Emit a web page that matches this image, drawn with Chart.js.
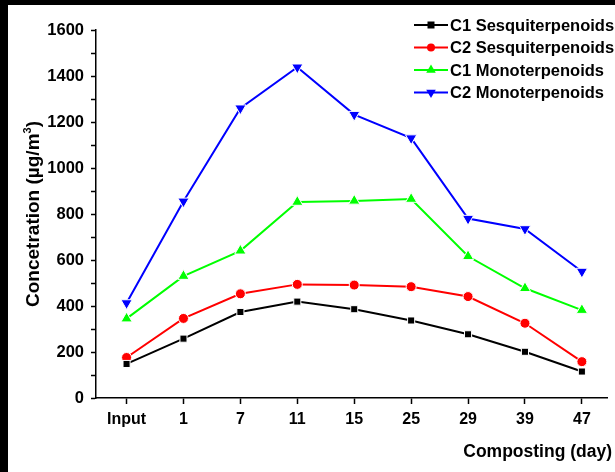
<!DOCTYPE html>
<html>
<head>
<meta charset="utf-8">
<script src="https://cdn.jsdelivr.net/npm/chart.js@4.4.1/dist/chart.umd.min.js"></script>
<style>
  html, body { margin: 0; padding: 0; background: #000; }
  #wrap { position: absolute; left: 8px; top: 5px; width: 607px; height: 467px; background: #fff; }
</style>
</head>
<body>
<div id="wrap"><canvas id="chart" width="607" height="467"></canvas></div>
<script>
// composting days (x categories)
const days = ['Input', '1', '7', '11', '15', '25', '29', '39', '47'];

// concentrations, ug/m3
const c1Sesq = [148, 258, 374, 419, 386, 337, 277, 201, 115];
const c2Sesq = [176, 346, 453, 494, 491, 484, 441, 325, 158];
const c1Mono = [345, 530, 640, 852, 857, 865, 616, 477, 382];
const c2Mono = [413, 855, 1260, 1438, 1232, 1130, 780, 735, 550];

const yTicks = [0, 200, 400, 600, 800, 1000, 1200, 1400, 1600];

const FONT = '"Liberation Sans", Arial, sans-serif';

const toPoints = vals => vals.map((v, i) => ({ x: i, y: v }));

const makeSet = (label, vals, color, style, radius, rotation) => ({
  label: label,
  data: toPoints(vals),
  borderColor: color,
  backgroundColor: color,
  borderWidth: 2,
  pointStyle: style,
  pointRadius: radius,
  pointRotation: rotation || 0,
  pointBackgroundColor: color,
  pointBorderColor: '#fff',
  pointBorderWidth: 1,
  tension: 0,
});

// legend + axis titles drawn on top of the chart
const extras = {
  id: 'extras',
  afterDraw(chart) {
    const ctx = chart.ctx;
    ctx.save();

    // legend
    const rowsY = [20, 42.5, 65, 87.5];
    chart.data.datasets.forEach((ds, i) => {
      const y = rowsY[i];
      ctx.strokeStyle = ds.borderColor;
      ctx.lineWidth = 2;
      ctx.beginPath();
      ctx.moveTo(406, y);
      ctx.lineTo(440, y);
      ctx.stroke();

      ctx.fillStyle = ds.borderColor;
      const cx = 423;
      ctx.beginPath();
      if (ds.pointStyle === 'rect') {
        ctx.rect(cx - 3.5, y - 3.5, 7, 7);
      } else if (ds.pointStyle === 'circle') {
        ctx.arc(cx, y, 4, 0, Math.PI * 2);
      } else {
        const r = 5.5;
        const dir = ds.pointRotation ? 1 : -1;
        ctx.moveTo(cx, y + dir * r);
        ctx.lineTo(cx - r * 0.87, y - dir * r * 0.5);
        ctx.lineTo(cx + r * 0.87, y - dir * r * 0.5);
        ctx.closePath();
      }
      ctx.fill();

      ctx.fillStyle = '#000';
      ctx.font = 'bold 16.5px ' + FONT;
      ctx.textAlign = 'left';
      ctx.textBaseline = 'middle';
      ctx.fillText(ds.label, 442, y + 1);
    });

    // x title
    ctx.font = 'bold 17.5px ' + FONT;
    ctx.textAlign = 'right';
    ctx.textBaseline = 'middle';
    ctx.fillText('Composting (day)', 604, 447);

    // y title with superscript 3
    const part1 = 'Concetration (\u00b5g/m';
    const part2 = '3';
    const part3 = ')';
    ctx.font = 'bold 19px ' + FONT;
    const w1 = ctx.measureText(part1).width;
    const w3 = ctx.measureText(part3).width;
    ctx.font = 'bold 11px ' + FONT;
    const w2 = ctx.measureText(part2).width;
    const total = w1 + w2 + w3;
    ctx.translate(31, 209);
    ctx.rotate(-Math.PI / 2);
    ctx.textAlign = 'left';
    ctx.textBaseline = 'alphabetic';
    ctx.font = 'bold 19px ' + FONT;
    ctx.fillText(part1, -total / 2, 0);
    ctx.font = 'bold 11px ' + FONT;
    ctx.fillText(part2, -total / 2 + w1, -8);
    ctx.font = 'bold 19px ' + FONT;
    ctx.fillText(part3, -total / 2 + w1 + w2, 0);

    ctx.restore();
  }
};

new Chart(document.getElementById('chart'), {
  type: 'line',
  data: {
    datasets: [
      makeSet('C1 Sesquiterpenoids', c1Sesq, '#000000', 'rect', 5),
      makeSet('C2 Sesquiterpenoids', c2Sesq, '#ff0000', 'circle', 5),
      makeSet('C1 Monoterpenoids', c1Mono, '#00ff00', 'triangle', 6.5),
      makeSet('C2 Monoterpenoids', c2Mono, '#0000ff', 'triangle', 6.5, 180),
    ],
  },
  options: {
    responsive: false,
    animation: false,
    layout: { padding: { top: 25, right: 0, bottom: 0, left: 0 } },
    plugins: {
      legend: { display: false },
      tooltip: { enabled: false },
    },
    scales: {
      x: {
        type: 'linear',
        min: -0.537,
        max: 8.45,
        afterFit: s => { s.height = 74; },
        ticks: {
          stepSize: 1,
          includeBounds: false,
          autoSkip: false,
          maxRotation: 0,
          color: '#000',
          padding: 6,
          font: { family: FONT, size: 16, weight: 'bold' },
          callback: v => (days[v] !== undefined ? days[v] : ''),
        },
        grid: { drawOnChartArea: false, color: '#000', tickLength: 6, tickWidth: 1.5 },
        border: { color: '#000', width: 1.5 },
      },
      y: {
        min: yTicks[0],
        max: yTicks[yTicks.length - 1],
        afterFit: s => { s.width = 88; },
        ticks: {
          stepSize: 100,
          color: '#000',
          padding: 7,
          font: { family: FONT, size: 16.5, weight: 'bold' },
          callback: v => (yTicks.includes(v) ? v : ''),
        },
        grid: { drawOnChartArea: false, color: '#000', tickLength: 5, tickWidth: 1.5 },
        border: { color: '#000', width: 1.5 },
      },
    },
  },
  plugins: [extras],
});
</script>
</body>
</html>
